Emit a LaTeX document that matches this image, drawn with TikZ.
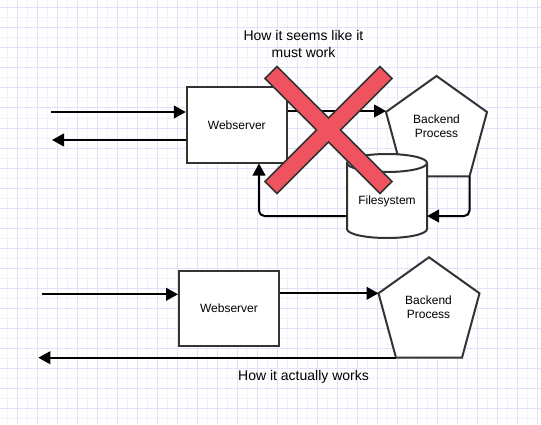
\documentclass[tikz,border=0pt]{standalone}
\usepackage{fontspec}
\setmainfont{Liberation Sans}
\usetikzlibrary{arrows.meta}
\definecolor{gridminor}{RGB}{243,241,251}
\definecolor{gridmajor}{RGB}{228,224,247}
\definecolor{xred}{RGB}{239,83,96}
\definecolor{edgegray}{RGB}{51,51,51}
\begin{document}
\begin{tikzpicture}[x=0.75pt,y=-0.75pt,
  shapeline/.style={draw=edgegray, line width=1.5pt, line join=miter},
  box/.style={shapeline, fill=white, minimum width=75pt, minimum height=56.25pt, inner sep=0pt, font=\fontsize{9}{10.5}\selectfont},
  lbl/.style={inner sep=0pt, align=center, font=\fontsize{9}{10.5}\selectfont},
  title/.style={inner sep=0pt, align=center, font=\fontsize{10.5}{12.4}\selectfont},
  arr/.style={draw=black, line width=1.5pt, -{Triangle[length=9pt,width=9.5pt]}},
  crossmark/.style={draw=edgegray, line width=1.1pt, fill=xred, line join=miter}]
% background and grid
\fill[white] (0,0) rectangle (541,424);
\useasboundingbox (0,0) rectangle (541,424);
\foreach \x in {7,17,...,537} \draw[gridminor, line width=0.75pt] (\x,0) -- (\x,424);
\foreach \y in {8,18,...,418} \draw[gridminor, line width=0.75pt] (0,\y) -- (541,\y);
\foreach \x in {17,37,...,537} \draw[gridmajor, line width=0.75pt] (\x,0) -- (\x,424);
\foreach \y in {8,28,...,408} \draw[gridmajor, line width=0.75pt] (0,\y) -- (541,\y);

% ---------- top diagram ----------
\node[title] (t1) at (303.5,44) {How it seems like it\\must work};
\node[box] (wsA) at (236.8,125) {Webserver};

\coordinate (pAt) at (436.5,76);
\coordinate (pAr) at (487,112);
\coordinate (pAbr) at (469.5,176.4);
\coordinate (pAbl) at (403.5,176.4);
\coordinate (pAl) at (386,111);
\draw[shapeline, fill=white] (pAt) -- (pAr) -- (pAbr) -- (pAbl) -- (386,112) -- cycle;
\node[lbl] (bpA) at (436.5,126) {Backend\\Process};

% cylinder
\coordinate (fsTL) at (347,163);
\coordinate (fsTR) at (427,163);
\coordinate (fsBL) at (347,229);
\coordinate (fsBR) at (427,229);
\draw[shapeline, fill=white] (fsTL) -- (fsBL) arc[start angle=180, end angle=0, x radius=40, y radius=9] -- (fsTR) arc[start angle=0, end angle=-180, x radius=40, y radius=9] -- cycle;
\draw[shapeline] (fsTL) arc[start angle=180, end angle=0, x radius=40, y radius=9];
\node[lbl] (fs) at (387,201) {Filesystem};

\coordinate (inA) at (51,112);
\coordinate (outA) at (52,140);
\coordinate (fsR) at (427,216);
\coordinate (fsL) at (347,216);
\coordinate (cA) at (259,216);
\draw[arr] (inA) -- (inA -| wsA.west);
\draw[arr] (wsA.west |- outA) -- (outA);
\draw[arr] (wsA.east |- pAl) -- (pAl);
\draw[arr, rounded corners=4pt] (pAbr) -- (pAbr |- fsR) -- (fsR);
\draw[arr, rounded corners=4pt] (fsL) -- (cA) -- (cA |- wsA.south);

% red cross
\draw[crossmark] (277,66.5) -- (328.5,118) -- (380,66.5) -- (392,78.5) -- (340.5,130)
  -- (392,181.5) -- (380,193.5) -- (328.5,142) -- (277,193.5) -- (265,181.5)
  -- (316.5,130) -- (265,78.5) -- cycle;

% ---------- bottom diagram ----------
\node[box] (wsB) at (229,308.5) {Webserver};
\coordinate (pBt) at (429,257.3);
\coordinate (pBr) at (479.5,293.3);
\coordinate (pBbr) at (462,357.7);
\coordinate (pBbl) at (396,357.7);
\coordinate (pBl) at (378.5,293.3);
\draw[shapeline, fill=white] (pBt) -- (pBr) -- (pBbr) -- (pBbl) -- (pBl) -- cycle;
\node[lbl] (bpB) at (428.5,307.5) {Backend\\Process};

\coordinate (inB) at (41.7,294.3);
\coordinate (outB) at (38.3,357.7);
\draw[arr] (inB) -- (inB -| wsB.west);
\draw[arr] (wsB.east |- pBl) -- (pBl);
\draw[arr] (pBbl) -- (outB);

\node[title] (t2) at (303.5,377) {How it actually works};
\end{tikzpicture}
\end{document}
